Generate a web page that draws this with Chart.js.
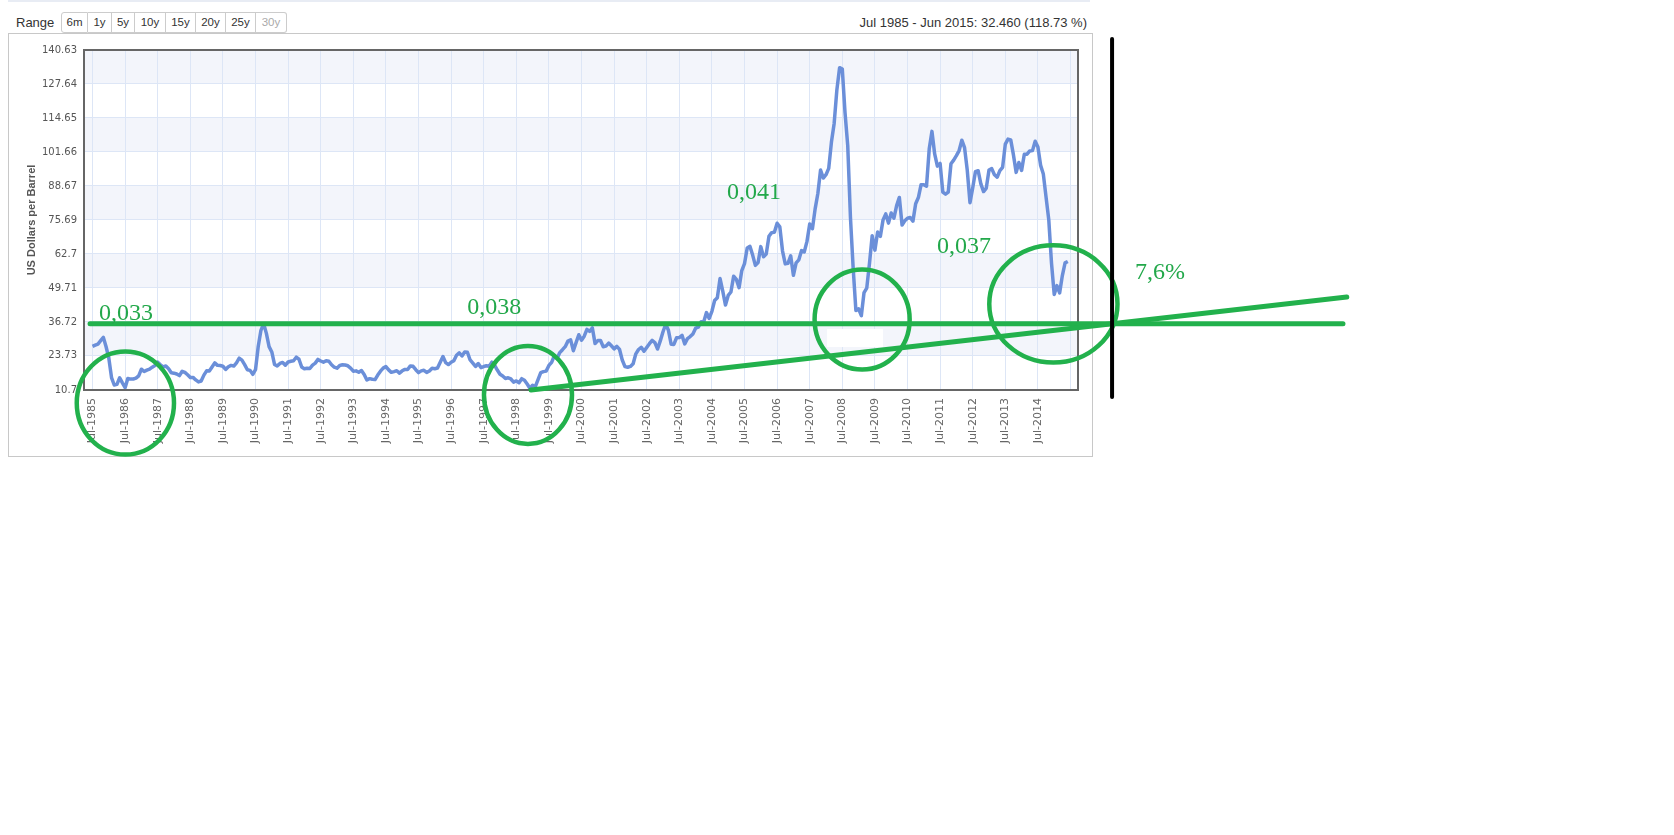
<!DOCTYPE html>
<html>
<head>
<meta charset="utf-8">
<title>Crude oil, monthly price</title>
<script src="https://cdn.jsdelivr.net/npm/chart.js@4.4.1/dist/chart.umd.min.js"></script>
<style>
  body { margin: 0; background: #fff; font-family: "Liberation Sans", Arial, sans-serif; }
  #topline { position: absolute; left: 8px; top: 0; width: 1082px; height: 2px; background: #e8ecf4; }
  #range { position: absolute; left: 16px; top: 15px; font-size: 13px; line-height: 15px; color: #333; }
  #buttons { position: absolute; left: 61px; top: 12px; display: flex; }
  #buttons span { display: block; box-sizing: border-box; height: 21px; line-height: 19px; border: 1px solid #ccc; border-left: none; text-align: center; font-size: 11.5px; color: #333; background: #fff; }
  #buttons span:first-child { border-left: 1px solid #ccc; border-radius: 3px 0 0 3px; }
  #buttons span:last-child { border-radius: 0 3px 3px 0; color: #aaa; }
  #summary { position: absolute; right: 587px; top: 15px; font-size: 13px; line-height: 15px; color: #333; white-space: nowrap; }
  #box { position: absolute; left: 8px; top: 33px; width: 1083px; height: 422px; border: 1px solid #c8c8c8; }
  #chart { position: absolute; left: 0; top: 0; }
</style>
</head>
<body>
<div id="topline"></div>
<div id="range">Range</div>
<div id="buttons">
  <span style="width:27px">6m</span><span style="width:24px">1y</span><span style="width:23px">5y</span><span style="width:31px">10y</span><span style="width:30px">15y</span><span style="width:30px">20y</span><span style="width:30px">25y</span><span style="width:31px">30y</span>
</div>
<div id="summary">Jul 1985 - Jun 2015: 32.460 (118.73 %)</div>
<div id="box"></div>
<canvas id="chart" width="1674" height="835"></canvas>
<script>
// monthly price, Jul 1985 .. Jun 2015 (one row per year)
const prices = [
    27.34, 27.82, 28.25, 29.54, 30.81, 27.23,                                   // 1985 (Jul-Dec)
    22.93, 15.46, 12.61, 12.84, 15.38, 13.43, 11.59, 15.10, 14.87, 14.90, 15.22, 16.11, // 1986
    18.65, 17.75, 18.30, 18.68, 19.44, 20.07, 21.34, 20.31, 19.53, 19.86, 18.85, 17.28, // 1987
    17.13, 16.80, 16.20, 17.86, 17.42, 16.53, 15.50, 15.52, 14.54, 13.77, 14.14, 16.38, // 1988
    18.02, 17.94, 19.48, 21.07, 20.12, 20.05, 19.78, 18.58, 19.59, 20.10, 19.86, 21.10, // 1989
    22.86, 22.11, 20.39, 18.43, 18.20, 16.70, 18.45, 27.31, 33.51, 36.04, 32.33, 27.28, // 1990
    25.23, 20.48, 19.90, 20.83, 21.23, 20.19, 21.40, 21.69, 21.89, 23.23, 22.46, 19.50, // 1991
    18.79, 19.01, 18.92, 20.23, 20.98, 22.39, 21.78, 21.34, 21.88, 21.69, 20.34, 19.41, // 1992
    19.03, 20.09, 20.32, 20.25, 19.95, 19.09, 17.89, 18.01, 17.50, 18.15, 16.61, 14.52, // 1993
    15.03, 14.78, 14.68, 16.42, 17.89, 19.06, 19.65, 18.38, 17.45, 17.72, 18.07, 17.16, // 1994
    18.04, 18.57, 18.54, 19.90, 19.74, 18.45, 17.33, 18.02, 18.23, 17.43, 17.99, 19.03, // 1995
    18.85, 19.09, 21.33, 23.50, 21.17, 20.42, 21.30, 21.90, 23.97, 24.88, 23.71, 25.23, // 1996
    25.13, 22.18, 20.97, 19.70, 20.82, 19.26, 19.66, 19.95, 19.80, 21.33, 20.19, 18.33, // 1997
    16.72, 16.06, 15.12, 15.35, 14.91, 13.72, 14.17, 13.47, 15.03, 14.46, 13.00, 11.35, // 1998
    12.52, 12.01, 14.68, 17.31, 17.72, 17.92, 20.10, 21.28, 23.80, 22.69, 25.00, 26.10, // 1999
    27.26, 29.37, 29.84, 25.72, 28.79, 31.82, 29.70, 31.26, 33.88, 33.11, 34.42, 28.44, // 2000
    29.59, 29.61, 27.25, 27.49, 28.63, 27.60, 26.43, 27.37, 26.20, 22.17, 19.64, 19.39, // 2001
    19.72, 20.72, 24.53, 26.18, 27.04, 25.52, 26.97, 28.39, 29.66, 28.84, 26.35, 29.46, // 2002
    32.95, 35.83, 33.51, 28.17, 28.11, 30.66, 30.76, 31.57, 28.31, 30.34, 31.11, 32.13, // 2003
    34.31, 34.69, 36.74, 36.75, 40.28, 38.03, 40.78, 44.90, 45.94, 53.28, 48.47, 43.15, // 2004
    46.84, 48.15, 54.19, 52.98, 49.83, 56.35, 59.00, 64.99, 65.59, 62.26, 58.32, 59.41, // 2005
    65.49, 61.63, 62.69, 69.44, 70.84, 70.95, 74.41, 73.04, 63.80, 58.89, 59.08, 61.96, // 2006
    54.51, 59.28, 60.44, 63.98, 63.46, 67.49, 74.12, 72.36, 79.92, 85.80, 94.77, 91.69, // 2007
    92.97, 95.39, 105.45, 112.58, 125.40, 133.88, 133.37, 116.67, 104.11, 76.61, 57.31, 41.12, // 2008
    41.71, 39.09, 47.94, 49.65, 59.03, 69.64, 64.15, 71.05, 69.41, 75.72, 77.99, 74.47, // 2009
    78.33, 76.39, 81.20, 84.29, 73.74, 75.34, 76.32, 76.60, 75.24, 81.89, 84.25, 89.15, // 2010
    89.17, 88.58, 102.86, 109.53, 100.90, 96.26, 97.30, 86.33, 85.52, 86.32, 97.16, 98.56, // 2011
    100.27, 102.20, 106.16, 103.32, 94.66, 82.30, 87.90, 94.13, 94.51, 89.49, 86.53, 87.86, // 2012
    94.76, 95.31, 92.94, 92.02, 94.51, 95.77, 104.67, 106.57, 106.29, 100.54, 93.86, 97.63, // 2013
    94.62, 100.82, 100.80, 102.07, 102.18, 105.79, 103.59, 96.54, 93.21, 84.40, 75.79, 59.29, // 2014
    47.22, 50.58, 47.82, 54.45, 59.27, 59.80                                     // 2015 (Jan-Jun)
];

const xTickLabels = [
    'Jul-1985', 'Jul-1986', 'Jul-1987', 'Jul-1988', 'Jul-1989', 'Jul-1990', 'Jul-1991', 'Jul-1992',
    'Jul-1993', 'Jul-1994', 'Jul-1995', 'Jul-1996', 'Jul-1997', 'Jul-1998', 'Jul-1999', 'Jul-2000',
    'Jul-2001', 'Jul-2002', 'Jul-2003', 'Jul-2004', 'Jul-2005', 'Jul-2006', 'Jul-2007', 'Jul-2008',
    'Jul-2009', 'Jul-2010', 'Jul-2011', 'Jul-2012', 'Jul-2013', 'Jul-2014'
];
const yTickLabels = ['10.7', '23.73', '36.72', '49.71', '62.7', '75.69', '88.67', '101.66', '114.65', '127.64', '140.63'];

// hand-drawn marks, in chart units (month index, price)
const levelLine = [[-0.9, 36.0], [460.3, 36.0]];
const trendLine = [[161.4, 10.7], [461.7, 46.24]];
const nowLine = [[375.3, 144.8], [375.3, 8.0]];
// [month, price, x radius (months), y radius (price)]
const rings = [
    [12.1, 5.73, 17.9, 19.7],
    [160.3, 8.8, 16.2, 18.7],
    [283.3, 37.64, 17.5, 19.1],
    [353.7, 43.57, 23.6, 22.4]
];
// [text, month, price at baseline]
const notes = [
    ['0,033', 2.4, 37.45],
    ['0,038', 137.9, 39.74],
    ['0,041', 233.6, 83.69],
    ['0,037', 310.9, 63.05],
    ['7,6%', 383.7, 53.12]
];
const blankPatch = [270.4, 34.0, 291.0, 27.13];

const yValues = yTickLabels.map(t => parseFloat(t));

const bandsPlugin = {
    id: 'bands',
    beforeDraw(chart) {
        const { ctx, chartArea: a, scales: { y } } = chart;
        ctx.save();
        ctx.fillStyle = '#f3f5fb';
        for (let i = 1; i < yValues.length - 1; i += 2) {
            const top = y.getPixelForValue(yValues[i + 1]);
            const bottom = y.getPixelForValue(yValues[i]);
            ctx.fillRect(a.left, top, a.right - a.left, bottom - top);
        }
        ctx.restore();
    }
};

const overlayPlugin = {
    id: 'overlay',
    afterDraw(chart) {
        const { ctx, chartArea: a, scales: { x, y } } = chart;
        const px = m => x.getPixelForValue(m);
        const py = v => y.getPixelForValue(v);
        ctx.save();

        // plot frame
        ctx.strokeStyle = '#666';
        ctx.lineWidth = 2;
        ctx.strokeRect(a.left, a.top, a.right - a.left, a.bottom - a.top);

        ctx.fillStyle = '#fff';
        ctx.fillRect(px(blankPatch[0]), py(blankPatch[1]), px(blankPatch[2]) - px(blankPatch[0]), py(blankPatch[3]) - py(blankPatch[1]));

        const green = '#22b14c';
        ctx.strokeStyle = green;
        ctx.lineCap = 'round';
        ctx.lineWidth = 5;
        [levelLine, trendLine].forEach(seg => {
            ctx.beginPath();
            ctx.moveTo(px(seg[0][0]), py(seg[0][1]));
            ctx.lineTo(px(seg[1][0]), py(seg[1][1]));
            ctx.stroke();
        });

        ctx.lineWidth = 4.5;
        rings.forEach(r => {
            const cx = px(r[0]), cy = py(r[1]);
            const rx = px(r[0] + r[2]) - cx;
            const ry = cy - py(r[1] + r[3]);
            ctx.beginPath();
            ctx.ellipse(cx, cy, rx, ry, 0, 0, Math.PI * 2);
            ctx.stroke();
        });

        ctx.strokeStyle = '#000';
        ctx.lineWidth = 4;
        ctx.beginPath();
        ctx.moveTo(px(nowLine[0][0]), py(nowLine[0][1]));
        ctx.lineTo(px(nowLine[1][0]), py(nowLine[1][1]));
        ctx.stroke();

        ctx.fillStyle = '#22a84a';
        ctx.font = '24px "Liberation Serif", serif';
        ctx.textBaseline = 'alphabetic';
        ctx.textAlign = 'left';
        notes.forEach(n => ctx.fillText(n[0], px(n[1]), py(n[2])));

        ctx.restore();
    }
};

const canvas = document.getElementById('chart');
new Chart(canvas, {
    type: 'line',
    data: {
        datasets: [{
            data: prices.map((v, i) => ({ x: i, y: v })),
            borderColor: '#6b8fd9',
            borderWidth: 3.5,
            borderJoinStyle: 'round',
            pointRadius: 0,
            tension: 0,
            fill: false
        }]
    },
    options: {
        responsive: false,
        animation: false,
        devicePixelRatio: 1,
        layout: { padding: { left: 0, top: 50, right: 596, bottom: 375 } },
        plugins: { legend: { display: false }, tooltip: { enabled: false } },
        scales: {
            x: {
                type: 'linear',
                min: -3.13,
                max: 362.76,
                afterBuildTicks: s => { s.ticks = xTickLabels.concat(['']).map((_, i) => ({ value: i * 12 })); },
                afterFit: s => { s.height = 70; },
                ticks: {
                    autoSkip: false,
                    maxRotation: 90,
                    minRotation: 90,
                    padding: 8,
                    color: '#666',
                    font: { family: 'DejaVu Sans', size: 11 },
                    callback: (v, i) => xTickLabels[i] || ''
                },
                grid: { color: '#dde6f6', drawTicks: false },
                border: { display: false }
            },
            y: {
                min: 10.7,
                max: 140.63,
                afterBuildTicks: s => { s.ticks = yValues.map(v => ({ value: v })); },
                afterFit: s => { s.width = 84; },
                ticks: {
                    padding: 7,
                    color: '#555',
                    font: { family: 'DejaVu Sans', size: 10 },
                    callback: (v, i) => yTickLabels[i]
                },
                grid: { color: '#dde6f6', drawTicks: false },
                border: { display: false },
                title: {
                    display: true,
                    text: 'US Dollars per Barrel',
                    color: '#555',
                    font: { family: 'Liberation Sans', size: 11, weight: 'bold' },
                    padding: { top: 25, bottom: 0 }
                }
            }
        }
    },
    plugins: [bandsPlugin, overlayPlugin]
});
</script>
</body>
</html>
